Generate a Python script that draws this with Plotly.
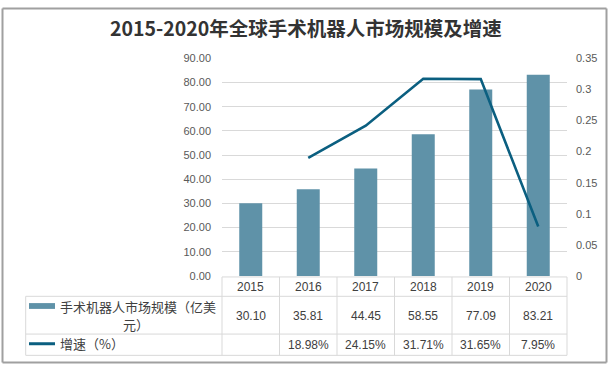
import plotly.graph_objects as go

years = ["2015", "2016", "2017", "2018", "2019", "2020"]
market = [30.10, 35.81, 44.45, 58.55, 77.09, 83.21]
growth = [None, 0.1898, 0.2415, 0.3171, 0.3165, 0.0795]
left_ticks = [0, 10, 20, 30, 40, 50, 60, 70, 80, 90]
right_ticks = [0, 0.05, 0.1, 0.15, 0.2, 0.25, 0.3, 0.35]
title = "2015-2020年全球手术机器人市场规模及增速"
series1_line1 = "手术机器人市场规模（亿美"
series1_line2 = "元）"
series2_name = "增速（%）"

W, H = 612, 372
BAR_COLOR = "#5f92a8"
LINE_COLOR = "#0b5f80"
GRID = "#d9d9d9"
TXT = "#404040"
CJK = "Noto Sans CJK SC"
NUM = "Liberation Sans"

def px(x):
    return x / W

def py(y):
    return 1 - y / H

PL, PR, PT, PB = 222, 567, 54, 279

fig = go.Figure()
fig.add_trace(go.Bar(x=years, y=market, width=0.4, marker=dict(color=BAR_COLOR, line=dict(width=0)),
                     name=series1_line1 + series1_line2, showlegend=False))
fig.add_trace(go.Scatter(x=years, y=growth, yaxis="y2", mode="lines",
                         line=dict(color=LINE_COLOR, width=2.6), name=series2_name, showlegend=False))

fig.update_layout(
    width=W, height=H,
    margin=dict(l=0, r=0, t=0, b=0),
    paper_bgcolor="white", plot_bgcolor="white",
    xaxis=dict(domain=[px(PL), px(PR)], type="category", range=[-0.5, 5.5],
               showticklabels=False, showgrid=False, zeroline=False, showline=False),
    yaxis=dict(domain=[py(PB), py(PT)], range=[0, 90], tickvals=left_ticks, tickformat=".2f",
               showgrid=True, gridcolor=GRID, gridwidth=1, zeroline=False, showline=False,
               tickfont=dict(family=NUM, size=11, color="#595959"), ticklabelstandoff=10),
    yaxis2=dict(overlaying="y", side="right", range=[0, 0.35], tickvals=right_ticks,
                showgrid=False, zeroline=False, showline=False,
                tickfont=dict(family=NUM, size=11, color="#595959"), ticklabelstandoff=8),
    bargap=0.6,
)

shapes = []
# outer border (drawn as four lines)
BX0, BX1, BY0, BY1 = 2.5, 606.5, 2.5, 368.5
for (a, b, c, d) in [(BX0, BX1, BY0, BY0), (BX0, BX1, BY1, BY1), (BX0, BX0, BY0, BY1), (BX1, BX1, BY0, BY1)]:
    shapes.append(dict(type="line", xref="paper", yref="paper", x0=px(a), x1=px(b), y0=py(c), y1=py(d),
                       line=dict(color="#a0a0a0", width=2)))
# table lines
LEFT = 25.7
col_w = (PR - PL) / len(years)
rows_y = [280, 300, 339, 361]
shapes.append(dict(type="line", xref="paper", yref="paper", x0=px(PL), x1=px(PR), y0=py(280), y1=py(280),
                   line=dict(color=GRID, width=1)))
for yy in rows_y[1:]:
    shapes.append(dict(type="line", xref="paper", yref="paper", x0=px(LEFT), x1=px(PR), y0=py(yy), y1=py(yy),
                       line=dict(color=GRID, width=1)))
shapes.append(dict(type="line", xref="paper", yref="paper", x0=px(LEFT), x1=px(LEFT), y0=py(300), y1=py(361),
                   line=dict(color=GRID, width=1)))
for k in range(len(years) + 1):
    xx = PL + k * col_w
    shapes.append(dict(type="line", xref="paper", yref="paper", x0=px(xx), x1=px(xx), y0=py(280), y1=py(361),
                       line=dict(color=GRID, width=1)))
# legend keys
shapes.append(dict(type="rect", xref="paper", yref="paper", x0=px(29), x1=px(55), y0=py(313), y1=py(307),
                   fillcolor=BAR_COLOR, line=dict(width=0)))
shapes.append(dict(type="line", xref="paper", yref="paper", x0=px(29), x1=px(55), y0=py(349), y1=py(349),
                   line=dict(color=LINE_COLOR, width=3)))

ann = []
ann.append(dict(text="<b>" + title + "</b>", x=px(306), y=py(22), xref="paper", yref="paper",
                showarrow=False, xanchor="center", yanchor="middle",
                font=dict(family=CJK, size=19.5, color="#333333")))
for i, yr in enumerate(years):
    cx = PL + (i + 0.5) * col_w
    ann.append(dict(text=yr, x=px(cx), y=py(290.5), xref="paper", yref="paper", showarrow=False,
                    xanchor="center", yanchor="middle", font=dict(family=NUM, size=12, color=TXT)))
    ann.append(dict(text=f"{market[i]:.2f}", x=px(cx), y=py(320), xref="paper", yref="paper", showarrow=False,
                    xanchor="center", yanchor="middle", font=dict(family=NUM, size=12, color=TXT)))
    if growth[i] is not None:
        ann.append(dict(text=f"{growth[i]*100:.2f}%", x=px(cx), y=py(350.5), xref="paper", yref="paper",
                        showarrow=False, xanchor="center", yanchor="middle",
                        font=dict(family=NUM, size=12, color=TXT)))
ann.append(dict(text=series1_line1, x=px(58), y=py(311), xref="paper", yref="paper", showarrow=False,
                xanchor="left", yanchor="middle", font=dict(family=CJK, size=13, color=TXT)))
ann.append(dict(text=series1_line2, x=px(136), y=py(329), xref="paper", yref="paper", showarrow=False,
                xanchor="center", yanchor="middle", font=dict(family=CJK, size=13, color=TXT)))
ann.append(dict(text=series2_name, x=px(58), y=py(349), xref="paper", yref="paper", showarrow=False,
                xanchor="left", yanchor="middle", font=dict(family=CJK, size=13, color=TXT)))

fig.update_layout(shapes=shapes, annotations=ann)
fig.write_html("out.html", config={"displayModeBar": False},
               post_script="document.body.style.margin='0';document.body.style.overflow='hidden';")
